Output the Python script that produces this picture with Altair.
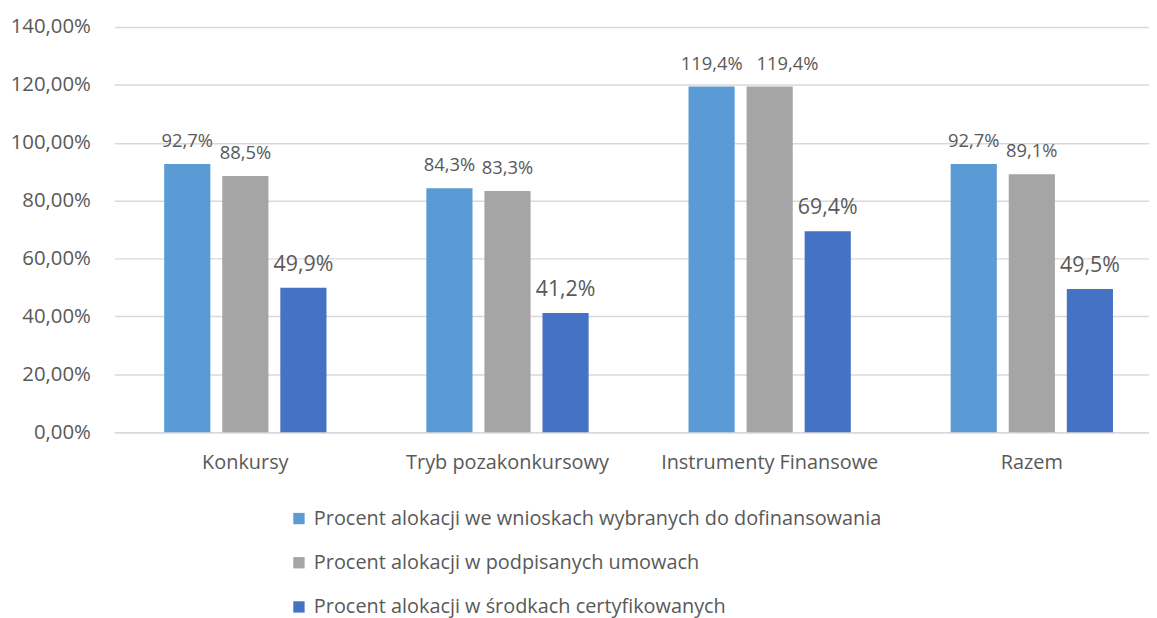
import altair as alt
import pandas as pd

categories = ["Konkursy", "Tryb pozakonkursowy", "Instrumenty Finansowe", "Razem"]
series = [
    "Procent alokacji we wnioskach wybranych do dofinansowania",
    "Procent alokacji w podpisanych umowach",
    "Procent alokacji w środkach certyfikowanych",
]
s1 = [92.7, 84.3, 119.4, 92.7]
s2 = [88.5, 83.3, 119.4, 89.1]
s3 = [49.9, 41.2, 69.4, 49.5]
colors = ["#5B9BD5", "#A5A5A5", "#4472C4"]
y_ticks = [0, 20, 40, 60, 80, 100, 120, 140]

rows = []
for vals, s in zip([s1, s2, s3], series):
    for c, v in zip(categories, vals):
        rows.append({"cat": c, "series": s, "value": v,
                     "label": f"{v:.1f}".replace(".", ",") + "%"})
df = pd.DataFrame(rows)

FONT = "Open Sans"
TXT = "#595959"

x = alt.X("cat:N", sort=categories, title=None,
          scale=alt.Scale(range=[0, 1056], paddingInner=0, paddingOuter=0),
          axis=alt.Axis(labelAngle=0, labelFontSize=20, labelColor=TXT, labelFont=FONT,
                        labelPadding=21, labelLimit=400, ticks=False,
                        domainColor="#D9D9D9", domainWidth=1.5, grid=False))
xo = alt.XOffset("series:N", sort=series,
                 scale=alt.Scale(paddingInner=0.205, paddingOuter=0.86))
y = alt.Y("value:Q", title=None,
          scale=alt.Scale(domain=[0, 140], nice=False),
          axis=alt.Axis(values=y_ticks, labelExpr="replace(format(datum.value, '.2f'), '.', ',') + '%'",
                        labelFontSize=20.5, labelColor=TXT, labelFont=FONT, labelPadding=24,
                        ticks=False, domain=False, gridColor="#D9D9D9", gridWidth=1.5))

bars = alt.Chart(df).mark_bar().encode(
    x=x, xOffset=xo, y=y,
    color=alt.Color("series:N", sort=series, title=None,
                    scale=alt.Scale(domain=series, range=colors),
                    legend=alt.Legend(orient="none", legendX=176, legendY=485,
                                      direction="vertical", symbolType="square",
                                      symbolSize=130, symbolStrokeWidth=0,
                                      labelFontSize=20, labelColor=TXT, labelFont=FONT,
                                      labelOffset=5, rowPadding=24.5, labelLimit=800)),
)

# series 1 & 2 labels (the crowded Instrumenty gray label is nudged right, as in the original)
crowded = ((alt.datum.cat == categories[2]) & (alt.datum.series == series[1]))
small = alt.Chart(df).transform_filter(
    alt.FieldOneOfPredicate(field="series", oneOf=series[:2])
).transform_filter(~crowded).mark_text(
    baseline="alphabetic", dy=-17, fontSize=18.5, color=TXT, font=FONT).encode(
    x=x, xOffset=xo, y=y, text="label:N")

small_shift = alt.Chart(df).transform_filter(crowded).mark_text(
    baseline="alphabetic", dy=-17, dx=18, fontSize=18.5, color=TXT, font=FONT).encode(
    x=x, xOffset=xo, y=y, text="label:N")

big = alt.Chart(df).transform_filter(
    alt.FieldEqualPredicate(field="series", equal=series[2])
).mark_text(baseline="alphabetic", dy=-17, fontSize=21.5, color=TXT, font=FONT).encode(
    x=x, xOffset=xo, y=y, text="label:N")

chart = alt.layer(bars, small, small_shift, big).properties(
    width=1042, height=408,
    autosize=alt.AutoSizeParams(type="none"),
    padding={"left": 107, "top": 17, "right": 0, "bottom": 185},
).configure_view(stroke=None)

chart.save("out.html", embed_options={"renderer": "svg", "actions": False})
